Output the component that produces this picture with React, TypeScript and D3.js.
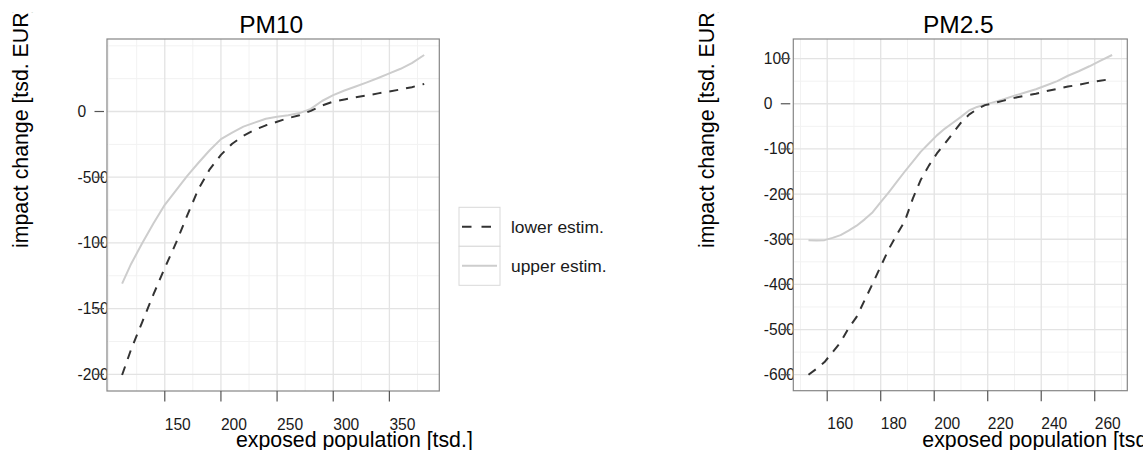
import * as d3 from "d3";

const W = 1143;
const H = 450;
const FONT = "'Liberation Sans', Arial, Helvetica, sans-serif";

// PM10 panel
const pm10Pop = [112, 120, 130, 140, 150, 160, 170, 180, 190, 200, 210, 220, 230, 240, 250, 260, 270, 280, 290, 300, 310, 320, 330, 340, 350, 360, 370, 381];
const pm10Lower = [-2005, -1810, -1600, -1390, -1190, -1000, -790, -590, -440, -330, -245, -185, -140, -105, -78, -50, -28, 5, 45, 75, 92, 108, 122, 138, 152, 168, 185, 210];
const pm10Upper = [-1310, -1160, -1000, -850, -710, -600, -490, -390, -295, -210, -160, -115, -85, -55, -40, -28, -12, 20, 80, 125, 160, 190, 222, 255, 290, 325, 368, 430];
const pm10XTicks = [150, 200, 250, 300, 350];
const pm10YTicks = [0, -500, -1000, -1500, -2000];

// PM2.5 panel
const pm25Pop = [153, 156, 159, 162, 165, 168, 171, 174, 177, 180, 183, 186, 189, 192, 195, 198, 201, 204, 207, 210, 213, 216, 219, 222, 226, 230, 234, 238, 242, 246, 250, 254, 258, 262, 266.5];
const pm25Lower = [-600, -587, -572, -550, -528, -497, -472, -435, -398, -360, -322, -290, -260, -210, -168, -137, -110, -88, -65, -42, -24, -12, -3, 1, 7, 13, 18, 22, 28, 33, 38, 42, 47, 51, 55];
const pm25Upper = [-302, -303, -302, -297, -291, -281, -270, -256, -240, -218, -196, -173, -150, -128, -106, -88, -70, -55, -42, -29, -15, -7, -2, 3, 10, 18, 25, 32, 41, 50, 62, 72, 83, 95, 108];
const pm25XTicks = [160, 180, 200, 220, 240, 260];
const pm25YTicks = [100, 0, -100, -200, -300, -400, -500, -600];

const seriesNames = ["lower estim.", "upper estim."];
const lowerColor = "#333333";
const upperColor = "#cdcdcd";

function Panel(props: any) {
  const { left, right, top, bottom, title, pop, lower, upper, xTicks, yTicks, xStep, yStep } = props;
  const [x0, x1] = d3.extent(pop) as number[];
  const [y0, y1] = d3.extent([...lower, ...upper]) as number[];
  const xp = (x1 - x0) * 0.05;
  const yp = (y1 - y0) * 0.05;
  const x = d3.scaleLinear([x0 - xp, x1 + xp], [left, right]);
  const y = d3.scaleLinear([y0 - yp, y1 + yp], [bottom, top]);

  const minorX = d3.range(Math.ceil((x0 - xp) / xStep) * xStep, x1 + xp, xStep).filter(v => !xTicks.includes(v));
  const minorY = d3.range(Math.ceil((y0 - yp) / yStep) * yStep, y1 + yp, yStep).filter(v => !yTicks.includes(v));

  const line = d3.line<number>().x((d, i) => x(pop[i])).y(d => y(d));

  return (
    <g fontFamily={FONT}>
      {/* y tick labels sit under the panel, which hides their ends */}
      {yTicks.map((t: number) => (
        <text key={"yl" + t} x={left - 29.5} y={y(t) + 5.5} fontSize={15.6} fill="#1a1a1a">{t}</text>
      ))}
      {yTicks.map((t: number) => (
        <line key={"yt" + t} x1={left - 12.5} x2={left - 3} y1={y(t)} y2={y(t)} stroke="#555" strokeWidth={1.2} />
      ))}
      <rect x={left} y={top} width={right - left} height={bottom - top} fill="#fff" />
      {minorX.map(v => <line key={"mx" + v} x1={x(v)} x2={x(v)} y1={top} y2={bottom} stroke="#f2f2f2" strokeWidth={1} />)}
      {minorY.map(v => <line key={"my" + v} x1={left} x2={right} y1={y(v)} y2={y(v)} stroke="#f2f2f2" strokeWidth={1} />)}
      {xTicks.map((t: number) => <line key={"gx" + t} x1={x(t)} x2={x(t)} y1={top} y2={bottom} stroke="#e3e3e3" strokeWidth={1.3} />)}
      {yTicks.map((t: number) => <line key={"gy" + t} x1={left} x2={right} y1={y(t)} y2={y(t)} stroke="#e3e3e3" strokeWidth={1.3} />)}
      <path d={line(upper) || ""} fill="none" stroke={upperColor} strokeWidth={2} strokeLinejoin="round" />
      <path d={line(lower) || ""} fill="none" stroke={lowerColor} strokeWidth={2} strokeDasharray="9,8" strokeLinejoin="round" />
      <rect x={left} y={top} width={right - left} height={bottom - top} fill="none" stroke="#858585" strokeWidth={1.2} />
      {xTicks.map((t: number) => (
        <g key={"xt" + t}>
          <line x1={x(t)} x2={x(t)} y1={bottom} y2={bottom + 10.5} stroke="#555" strokeWidth={1.2} />
          <text x={x(t)} y={bottom + 38.5} fontSize={15.6} fill="#1a1a1a">{t}</text>
        </g>
      ))}
      <text x={(left + right) / 2 - 2} y={33} fontSize={24.5} textAnchor="middle" fill="#000">{title}</text>
      <text x={left + 129} y={446.5} fontSize={21.3} fill="#000">exposed population [tsd.]</text>
      <g clipPath="url(#ytitleClip)">
        <text transform={`translate(${left - 79},248) rotate(-90)`} fontSize={21.3} fill="#000">impact change [tsd. EUR]</text>
      </g>
    </g>
  );
}

export default function App() {
  return (
    <svg width={W} height={H} style={{ position: "absolute", left: 0, top: 0, background: "#fff" }}>
      <defs>
        <clipPath id="ytitleClip">
          <rect x={0} y={12.6} width={W} height={H} />
        </clipPath>
      </defs>
      <rect width={W} height={H} fill="#fff" />
      <Panel left={107} right={439.3} top={39} bottom={391} title="PM10"
        pop={pm10Pop} lower={pm10Lower} upper={pm10Upper}
        xTicks={pm10XTicks} yTicks={pm10YTicks} xStep={25} yStep={250} />
      <Panel left={793.3} right={1127.3} top={39} bottom={390.7} title="PM2.5"
        pop={pm25Pop} lower={pm25Lower} upper={pm25Upper}
        xTicks={pm25XTicks} yTicks={pm25YTicks} xStep={10} yStep={50} />
      {/* legend */}
      <g fontFamily={FONT}>
        {seriesNames.map((name, i) => {
          const ty = 207.3 + i * 39;
          return (
            <g key={name}>
              <rect x={459} y={ty} width={41} height={39} fill="#fff" stroke="#d9d9d9" strokeWidth={1} />
              <line x1={462} x2={497} y1={ty + 19.5} y2={ty + 19.5}
                stroke={i === 0 ? lowerColor : upperColor} strokeWidth={2}
                strokeDasharray={i === 0 ? "9.5,10" : undefined} />
              <text x={511} y={ty + 26} fontSize={17.4} fill="#1a1a1a">{name}</text>
            </g>
          );
        })}
      </g>
    </svg>
  );
}
